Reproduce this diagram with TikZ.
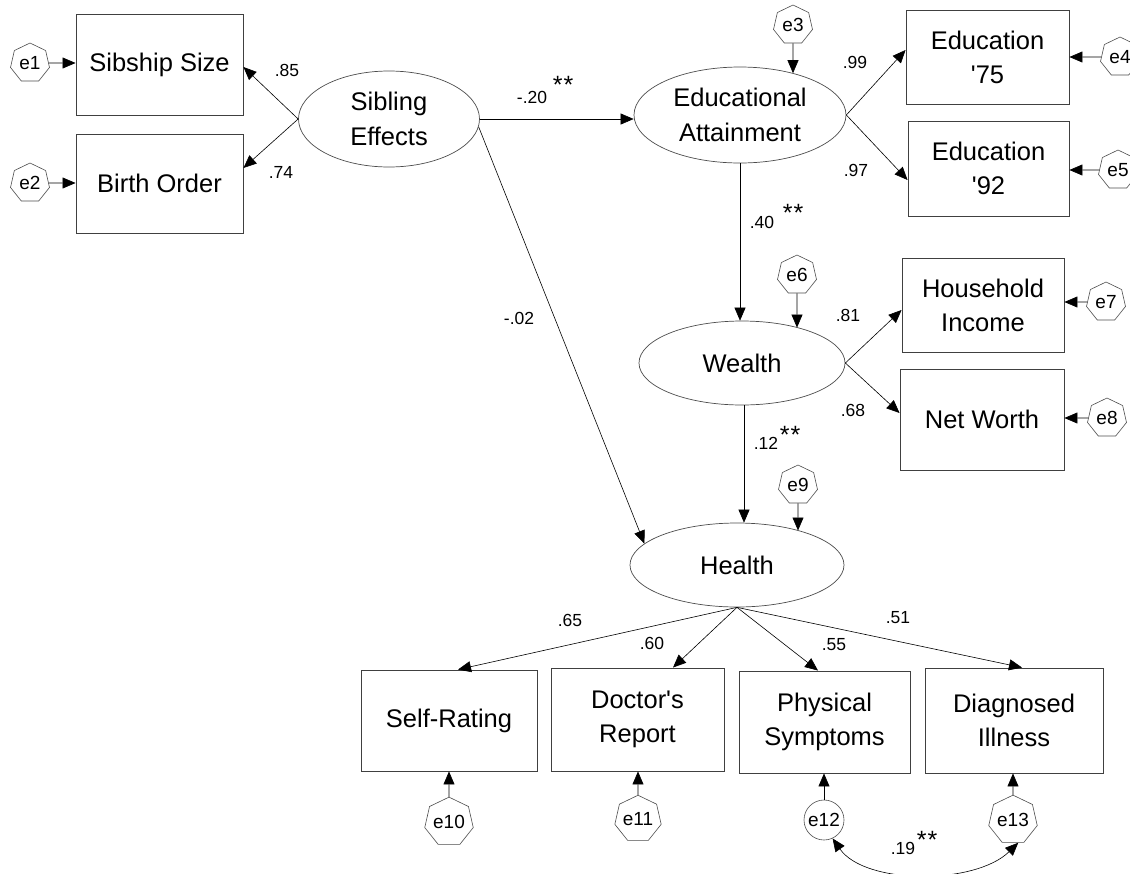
\documentclass[tikz,border=0pt]{standalone}
\usepackage{fontspec}
\setmainfont{Liberation Sans}
\usetikzlibrary{shapes.geometric,arrows.meta,calc}
\begin{document}
\begin{tikzpicture}[x=1pt,y=-1pt,
  obs/.style={draw=black!75, line width=0.9pt, inner sep=0pt, align=center, font=\fontsize{25.5}{34}\selectfont},
  lat/.style={ellipse, draw=black!70, line width=0.7pt, inner sep=0pt, align=center, font=\fontsize{25.5}{35}\selectfont},
  err/.style={regular polygon, regular polygon sides=7, draw=black!70, line width=0.6pt, minimum size=40pt, inner sep=0pt, font=\fontsize{19}{19}\selectfont},
  errc/.style={circle, draw=black!70, line width=0.6pt, minimum size=40pt, inner sep=0pt, font=\fontsize{19}{19}\selectfont},
  lbl/.style={font=\fontsize{17.5}{17.5}\selectfont, inner sep=0pt},
  ast/.style={font=\fontsize{25}{25}\selectfont, inner sep=0pt},
  arr/.style={-{Triangle[length=13pt,width=11pt]}, line width=0.6pt},
  darr/.style={{Triangle[length=13pt,width=11pt]}-{Triangle[length=13pt,width=11pt]}, line width=0.6pt}
]
\path[use as bounding box] (0,0) rectangle (1130,873);

% observed variables
\node[obs, minimum width=167pt, minimum height=101pt] (sib) at (159.5,64.5) {Sibship Size};
\node[obs, minimum width=167pt, minimum height=99pt] (bo) at (159.5,183.5) {Birth Order};
\node[obs, minimum width=163pt, minimum height=94pt] (ed75) at (987.5,57) {Education\\\textquotesingle 75};
\node[obs, minimum width=161pt, minimum height=95pt] (ed92) at (988.5,168.5) {Education\\\textquotesingle 92};
\node[obs, minimum width=162pt, minimum height=94pt] (hh) at (983,305) {Household\\Income};
\node[obs, minimum width=164pt, minimum height=101pt] (nw) at (982,419.5) {Net Worth};
\node[obs, minimum width=176pt, minimum height=101pt] (sr) at (449,720.5) {Self-Rating};
\node[obs, minimum width=173pt, minimum height=103pt] (dr) at (637.5,719.5) {Doctor\textquotesingle s\\Report};
\node[obs, minimum width=171pt, minimum height=102pt] (ps) at (824.5,722) {Physical\\Symptoms};
\node[obs, minimum width=178pt, minimum height=105pt] (di) at (1014,720.5) {Diagnosed\\Illness};

% latent variables
\node[lat, minimum width=181pt, minimum height=96pt] (sibeff) at (389,119) {Sibling\\Effects};
\node[lat, minimum width=212pt, minimum height=96pt] (edu) at (740,115) {Educational\\Attainment};
\node[lat, minimum width=206pt, minimum height=84pt] (wealth) at (742,363) {Wealth};
\node[lat, minimum width=214pt, minimum height=84pt] (health) at (737,565) {Health};

% errors
\node[err] (e1) at (30,63) {e1};
\node[err] (e2) at (30,183) {e2};
\node[err] (e3) at (793,25) {e3};
\node[err] (e4) at (1120,57) {e4};
\node[err] (e5) at (1118,170) {e5};
\node[err] (e6) at (797,275) {e6};
\node[err] (e7) at (1106,302) {e7};
\node[err] (e8) at (1107,418) {e8};
\node[err] (e9) at (798,485) {e9};
\node[err] (e10) at (449,822) {e10};
\node[err] (e11) at (638,819) {e11};
\node[errc] (e12) at (824,820) {e12};
\node[err] (e13) at (1013,820) {e13};

% error arrows
\draw[arr] (e1) -- (e1 -| sib.west);
\draw[arr] (e2) -- (e2 -| bo.west);
\draw[arr] (e3) -- (e3 |- edu.38);
\draw[arr] (e4) -- (e4 -| ed75.east);
\draw[arr] (e5) -- (e5 -| ed92.east);
\draw[arr] (e6) -- (e6 |- wealth.32);
\draw[arr] (e7) -- (e7 -| hh.east);
\draw[arr] (e8) -- (e8 -| nw.east);
\draw[arr] (e9) -- (e9 |- health.29);
\draw[arr] (e10) -- (e10 |- sr.south);
\draw[arr] (e11) -- (e11 |- dr.south);
\draw[arr] (e12) -- (e12 |- ps.south);
\draw[arr] (e13) -- (e13 |- di.south);

% paths
\draw[arr] (sibeff.west) -- ($(sib.east)+(0,2.5)$);
\draw[arr] (sibeff.west) -- ($(bo.east)+(0,-15.5)$);
\draw[arr] (sibeff.east) -- (sibeff.east -| edu.west);
\draw[arr] (sibeff.-5) -- (health.167);
\draw[arr] (edu.east) -- ($(ed75.west)+(0,-7)$);
\draw[arr] (edu.east) -- ($(ed92.west)+(0,11.5)$);
\draw[arr] (edu.south) -- (edu.south |- wealth.north);
\draw[arr] (wealth.east) -- ($(hh.west)+(0,5)$);
\draw[arr] (wealth.east) -- ($(nw.west)+(0,-6.5)$);
\draw[arr] ($(wealth.south)+(2,0)$) -- ($(wealth.south |- health.north)+(2,0)$);
\draw[arr] (health.south) -- ($(sr.north)+(9,0)$);
\draw[arr] (health.south) -- ($(dr.north)+(35.5,0)$);
\draw[arr] (health.south) -- ($(ps.north)+(-6.5,0)$);
\draw[arr] (health.south) -- ($(di.north)+(8,0)$);
\draw[darr] (e12.-65) .. controls (865,885) and (975,885) .. (e13.-77);

% labels
\node[lbl] (l85) at (287,70) {.85};
\node[lbl] (l74) at (281,172) {.74};
\node[lbl] (l20) at (532,97) {-.20};
\node[ast] (a20) at (563,85) {*\kern1pt*};
\node[lbl] (l99) at (855,62) {.99};
\node[lbl] (l97) at (856,170) {.97};
\node[lbl] (l40) at (762,222) {.40};
\node[ast] (a40) at (793,213) {*\kern1pt*};
\node[lbl] (l02) at (519,318) {-.02};
\node[lbl] (l81) at (848,315) {.81};
\node[lbl] (l68) at (853,410) {.68};
\node[lbl] (l12) at (766,443) {.12};
\node[ast] (a12) at (790,435) {*\kern1pt*};
\node[lbl] (l65) at (570,620) {.65};
\node[lbl] (l60) at (652,643) {.60};
\node[lbl] (l55) at (834,645) {.55};
\node[lbl] (l51) at (898,618) {.51};
\node[lbl] (l19) at (903,848) {.19};
\node[ast] (a19) at (927,840) {*\kern1pt*};
\end{tikzpicture}
\end{document}
